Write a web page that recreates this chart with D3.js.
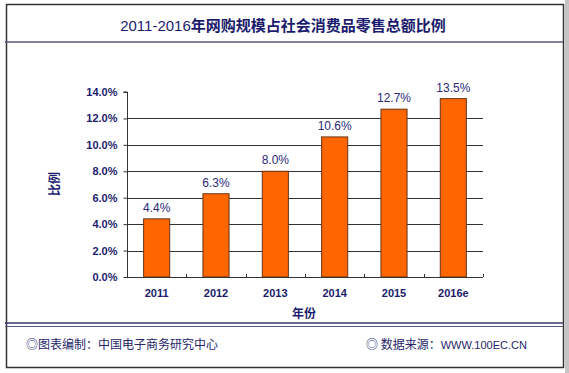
<!DOCTYPE html>
<html lang="zh">
<head>
<meta charset="UTF-8">
<title>2011-2016年网购规模占社会消费品零售总额比例</title>
<style>
    body { margin: 0; background: #fff; }
    text { font-family: "Liberation Sans", Arial, "Noto Sans CJK SC", sans-serif; }
    .cjk { font-family: "Noto Sans CJK SC", sans-serif; }
</style>
<script src="https://d3js.org/d3.v7.min.js"></script>
</head>
<body>
<script>
    // data
    var years = ["2011", "2012", "2013", "2014", "2015", "2016e"];
    var shares = [4.4, 6.3, 8.0, 10.6, 12.7, 13.5];
    var yTicks = [0, 2, 4, 6, 8, 10, 12, 14];

    var W = 569, H = 373;
    var navy = "#1c1c6e";
    var plot = { left: 127, right: 483, top: 92, bottom: 277 };

    var svg = d3.select("body").append("svg")
        .attr("width", W)
        .attr("height", H);

    // gray strip on the right, then the frame
    svg.append("rect").attr("x", 565).attr("y", 0).attr("width", 4).attr("height", H).attr("fill", "#c4c4c4");
    svg.append("rect")
        .attr("x", 6.5).attr("y", 4.5)
        .attr("width", 557).attr("height", 363)
        .attr("fill", "#fff").attr("stroke", "#333").attr("stroke-width", 1.5);

    // title bar and footer separators
    svg.append("line").attr("x1", 5).attr("x2", 563).attr("y1", 42).attr("y2", 42)
        .attr("stroke", "#5a5a80").attr("stroke-width", 1.5);
    svg.append("line").attr("x1", 5).attr("x2", 563).attr("y1", 323).attr("y2", 323)
        .attr("stroke", "#3a3a70").attr("stroke-width", 1.5);
    svg.append("line").attr("x1", 5).attr("x2", 563).attr("y1", 326.5).attr("y2", 326.5)
        .attr("stroke", "#5a5a88").attr("stroke-width", 1);

    var title = svg.append("text")
        .attr("x", 283).attr("y", 31)
        .attr("text-anchor", "middle")
        .attr("fill", navy)
        .style("font-size", "15px");
    title.append("tspan").text("2011-2016").style("font-weight", "normal");
    title.append("tspan").attr("class", "cjk").style("font-weight", "bold").text("年网购规模占社会消费品零售总额比例");

    var x = d3.scaleBand()
        .domain(years)
        .range([plot.left, plot.right])
        .paddingInner(0.56)
        .paddingOuter(0.28);

    var y = d3.scaleLinear()
        .domain([0, 14])
        .range([plot.bottom, plot.top]);

    // gridlines
    svg.append("g")
        .selectAll("line")
        .data(yTicks.filter(function(d) { return d > 0 && d < 14; }))
        .enter()
        .append("line")
        .attr("x1", plot.left).attr("x2", plot.right)
        .attr("y1", function(d) { return Math.round(y(d)) + 0.5; })
        .attr("y2", function(d) { return Math.round(y(d)) + 0.5; })
        .attr("stroke", "#333").attr("stroke-width", 1);

    // bars
    svg.append("g")
        .selectAll("rect")
        .data(shares)
        .enter()
        .append("rect")
        .attr("x", function(d, i) { return x(years[i]); })
        .attr("y", function(d) { return y(d); })
        .attr("width", x.bandwidth())
        .attr("height", function(d) { return y(0) - y(d); })
        .attr("fill", "#ff6600")
        .attr("stroke", "#6b3312")
        .attr("stroke-width", 1);

    // value labels
    svg.append("g")
        .selectAll("text")
        .data(shares)
        .enter()
        .append("text")
        .attr("x", function(d, i) { return x(years[i]) + x.bandwidth() / 2; })
        .attr("y", function(d) { return y(d) - 7; })
        .attr("text-anchor", "middle")
        .attr("fill", "#2a2a78")
        .style("font-size", "12px")
        .text(function(d) { return d.toFixed(1) + "%"; });

    // y axis
    var yAxis = svg.append("g")
        .attr("transform", "translate(" + (plot.left + 0.5) + ",0)")
        .call(d3.axisLeft(y).tickValues(yTicks).tickSize(4).tickPadding(6)
            .tickFormat(function(d) { return d.toFixed(1) + "%"; }));
    yAxis.select(".domain").attr("stroke", "#333").attr("d", "M-4," + plot.top + "H0V" + plot.bottom);
    yAxis.selectAll(".tick line").attr("stroke", "#333");
    yAxis.selectAll(".tick text")
        .attr("fill", navy)
        .style("font-size", "11px")
        .style("font-weight", "bold")
        .style("font-family", "'Liberation Sans', Arial, sans-serif");

    // x axis: labels below, small inward ticks at category boundaries
    var xAxis = svg.append("g")
        .attr("transform", "translate(0," + (plot.bottom + 0.5) + ")")
        .call(d3.axisBottom(x).tickSize(0).tickPadding(12));
    xAxis.select(".domain").attr("stroke", "#333").attr("d", "M" + plot.left + ",0H" + plot.right);
    xAxis.selectAll(".tick text")
        .attr("fill", navy)
        .style("font-size", "11px")
        .style("font-weight", "bold")
        .style("font-family", "'Liberation Sans', Arial, sans-serif");

    svg.append("g")
        .selectAll("line")
        .data(years.slice(1).concat(["end"]))
        .enter()
        .append("line")
        .attr("x1", function(d, i) { return Math.round(plot.left + (i + 1) * x.step()) + 0.5; })
        .attr("x2", function(d, i) { return Math.round(plot.left + (i + 1) * x.step()) + 0.5; })
        .attr("y1", plot.bottom).attr("y2", plot.bottom - 3)
        .attr("stroke", "#333");

    // axis titles
    svg.append("text")
        .attr("class", "cjk")
        .attr("x", 304).attr("y", 318)
        .attr("text-anchor", "middle")
        .attr("fill", navy)
        .style("font-size", "12px").style("font-weight", "bold")
        .text("年份");

    svg.append("text")
        .attr("class", "cjk")
        .attr("transform", "translate(59,184) rotate(-90)")
        .attr("text-anchor", "middle")
        .attr("fill", navy)
        .style("font-size", "12px").style("font-weight", "bold")
        .text("比例");

    // footer
    svg.append("text")
        .attr("class", "cjk")
        .attr("x", 26).attr("y", 349)
        .attr("fill", "#26266a")
        .style("font-size", "12px")
        .text("◎图表编制：中国电子商务研究中心");

    var source = svg.append("text")
        .attr("class", "cjk")
        .attr("x", 366).attr("y", 349)
        .attr("fill", "#26266a")
        .style("font-size", "12px");
    source.append("tspan").text("◎  数据来源：");
    source.append("tspan")
        .style("font-family", "'Liberation Sans Narrow', 'Liberation Sans', sans-serif")
        .style("font-size", "11px")
        .text("WWW.100EC.CN");
</script>
</body>
</html>
